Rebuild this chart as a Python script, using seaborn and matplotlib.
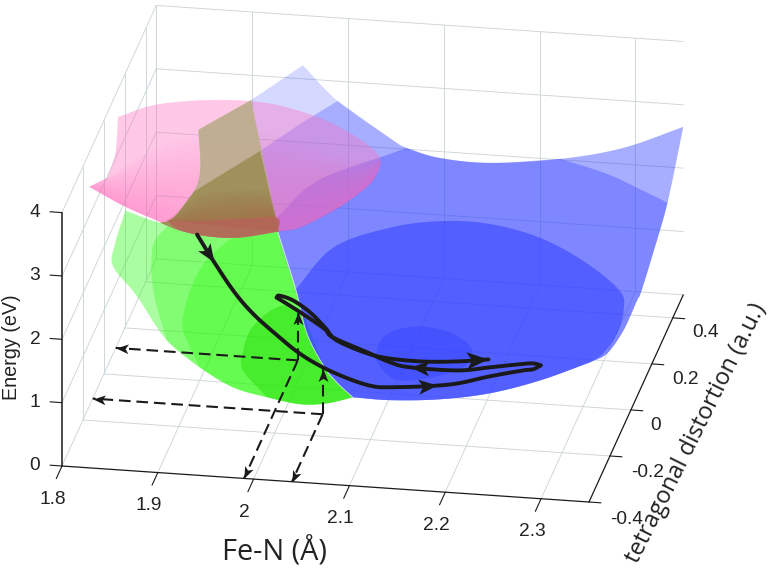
import numpy as np
import matplotlib
matplotlib.use("Agg")
import matplotlib.pyplot as plt
from matplotlib.path import Path
import seaborn as sns
from mpl_toolkits.mplot3d import proj3d
from mpl_toolkits.mplot3d.art3d import Poly3DCollection

sns.set_theme(style="white", font="Liberation Sans")

# ---------- axes values ----------
x_ticks = [1.8, 1.9, 2.0, 2.1, 2.2, 2.3]
x_tick_labels = ["1.8", "1.9", "2", "2.1", "2.2", "2.3"]
y_ticks = [-0.4, -0.2, 0.0, 0.2, 0.4]
y_tick_labels = ["-0.4", "-0.2", "0", "0.2", "0.4"]
z_ticks = [0, 1, 2, 3, 4]
z_tick_labels = ["0", "1", "2", "3", "4"]
x_range = (1.8, 2.35)
y_range = (-0.4, 0.5)
z_range = (0, 4)

# ---------- blue surface (x, y, energy) ----------
cross_line = [(1.925, .262, 3.5), (1.974, .066, 2.2), (1.997, .033, 1.4), (2.019, -.065, 1.1),
              (2.048, -.162, .95), (2.068, -.218, .92), (2.089, -.267, .9)]
blue_flap = [(1.925, .262, 3.5), (1.976, .29, 4.0)]
blue_far_a = [(1.976, .29, 4.0), (2.013, .283, 3.5), (2.068, .276, 3.0), (2.087, .265, 2.9)]
blue_far_b = [(2.087, .265, 2.9), (2.119, .286, 2.7), (2.167, .333, 2.5), (2.236, .37, 2.5)]
blue_far_c = [(2.236, .37, 2.5), (2.297, .407, 2.6), (2.35, .5, 2.65)]
blue_right_a = [(2.35, .5, 2.65), (2.35, .35, 2.0)]
blue_right_b = [(2.35, .35, 2.0), (2.345, .293, 1.6), (2.335, .238, 1.0), (2.335, .195, 1.0),
                (2.335, .065, 1.0), (2.329, -.036, 1.0), (2.316, -.078, 1.0)]
blue_bottom = [(2.316, -.078, 1.0), (2.274, -.168, 1.0), (2.229, -.237, 1.0), (2.181, -.277, 1.0),
               (2.131, -.295, 1.0), (2.089, -.267, .9)]
blue2_edge = [(1.943, .184, 3.0), (1.977, .255, 3.2), (2.013, .283, 3.5)]
blue3_edge_a = [(1.97, .094, 2.3), (1.997, .234, 2.4), (2.064, .315, 2.6), (2.087, .265, 2.9)]
blue3_edge_b = [(2.236, .37, 2.5), (2.284, .374, 2.3), (2.323, .366, 2.1), (2.35, .35, 2.0)]
blue4_edge = [(1.984, .139, 1.0), (2.003, .331, 1.0), (2.051, .431, 1.0), (2.1, .474, 1.0),
              (2.151, .476, 1.0), (2.208, .432, 1.0), (2.264, .344, 1.0), (2.313, .232, 1.0),
              (2.326, .15, 1.0), (2.33, .051, 1.0), (2.325, -.037, 1.0), (2.316, -.078, 1.0)]
blue5_ring = [(2.085, -.017, .6), (2.082, .06, .6), (2.092, .107, .6), (2.116, .131, .6),
              (2.149, .114, .6), (2.178, .053, .6), (2.18, -.02, .6), (2.152, -.08, .6),
              (2.12, -.102, .6), (2.101, -.073, .6), (2.085, -.017, .6)]

# ---------- green surface ----------
green_bottom = [(2.089, -.267, .9), (2.069, -.326, 1.0), (2.042, -.338, 1.0), (2.005, -.318, 1.0),
                (1.966, -.286, 1.0), (1.929, -.265, 1.2), (1.892, -.241, 1.5), (1.861, -.214, 2.0),
                (1.852, -.201, 2.1)]
green_left = [(1.852, -.201, 2.1), (1.829, -.181, 2.4), (1.83, -.168, 2.7), (1.834, -.107, 3.0)]
green_back = [(1.834, -.107, 3.0), (1.872, -.121, 2.9), (1.886, -.123, 3.0), (1.903, -.096, 3.3),
              (1.909, -.078, 3.6), (1.9, -.012, 4.0)]
green_top = [(1.9, -.012, 4.0), (1.925, .262, 3.5)]
green2_edge = [(1.943, .184, 3.0), (1.908, -.069, 3.3), (1.887, -.135, 3.0), (1.869, -.144, 2.7),
               (1.866, -.149, 2.4), (1.87, -.18, 2.2), (1.875, -.191, 1.9), (1.892, -.241, 1.5)]
green3_edge = [(1.974, .066, 2.2), (1.943, .057, 2.2), (1.913, .004, 2.0), (1.898, -.047, 1.7),
               (1.897, -.138, 1.4), (1.91, -.189, 1.25), (1.929, -.265, 1.2)]
green4_edge = [(2.002, .039, 1.1), (1.982, .046, 1.1), (1.969, .008, 1.1), (1.96, -.068, 1.1),
               (1.963, -.167, 1.1), (1.971, -.238, 1.1), (2.002, -.329, 1.1)]

# ---------- pink surface ----------
pink_top = [(1.807, .072, 3.8), (1.834, .128, 3.8), (1.869, .159, 3.8), (1.912, .176, 3.8),
            (1.951, .174, 3.8), (1.988, .15, 3.8), (2.028, .105, 3.8), (2.071, .03, 3.8),
            (2.093, -.037, 3.8)]
pink_low = [(2.093, -.037, 3.8), (2.094, -.123, 3.8), (2.082, -.2, 3.8), (2.068, -.26, 3.8),
            (2.042, -.341, 3.8), (2.022, -.364, 3.8), (1.986, -.4, 3.8), (1.955, -.405, 3.8),
            (1.922, -.388, 3.8), (1.894, -.353, 3.8), (1.853, -.3, 3.8), (1.81, -.23, 3.8)]
pink_left_a = [(1.81, -.23, 3.8), (1.824, -.187, 3.8)]
pink_left_b = [(1.824, -.187, 3.8), (1.821, -.084, 3.8), (1.807, .072, 3.8)]
pink2_edge = [(1.824, -.187, 3.8), (1.855, -.061, 3.8), (1.898, .016, 3.8), (1.947, .052, 3.8),
              (2.002, .024, 3.8), (2.061, -.037, 3.8), (2.093, -.037, 3.8)]
olive_low = [(1.872, -.121, 2.9), (1.922, -.388, 3.8), (1.955, -.405, 3.8), (1.986, -.4, 3.8),
             (2.022, -.364, 3.8)]
olive_back = [(1.9, -.012, 4.0), (1.909, -.078, 3.6), (1.903, -.096, 3.3), (1.886, -.123, 3.0),
              (1.872, -.121, 2.9)]
olive2_edge = [(1.943, .184, 3.0), (1.908, -.069, 3.3), (1.903, -.096, 3.3), (1.886, -.123, 3.0),
               (1.872, -.121, 2.9)]
olive3_edge = [(1.904, -.35, 3.8), (1.938, -.341, 3.8), (1.98, -.32, 3.8), (2.014, -.306, 3.8),
               (2.022, -.364, 3.8)]
olive3_low = [(2.022, -.364, 3.8), (1.986, -.4, 3.8), (1.955, -.405, 3.8), (1.922, -.388, 3.8),
              (1.904, -.35, 3.8)]
olive_shade_top = [(1.904, -.35, 3.8), (1.926, -.236, 3.8), (1.967, -.202, 3.8), (1.995, -.195, 3.8)]
olive_shade_end = [(1.995, -.195, 3.8), (2.022, -.364, 3.8)]

# ---------- switching trajectory ----------
path_in = [(1.906, -.08, 2.6), (1.92, -.085, 2.3), (1.942, -.065, 1.7), (1.961, -.05, 1.3),
           (1.987, -.055, 1.0), (2.012, -.071, .8), (2.042, -.105, .72), (2.074, -.129, .65),
           (2.096, -.135, .6), (2.113, -.134, .6), (2.15, -.119, .6), (2.181, -.112, .65),
           (2.212, -.086, .7), (2.246, -.078, .8), (2.257, -.084, .85), (2.263, -.065, .85)]
path_back = [(2.263, -.065, .85), (2.254, -.059, .85), (2.237, -.055, .8), (2.208, -.048, .7),
             (2.175, -.057, .65), (2.124, -.044, .6), (2.102, -.029, .6), (2.075, .001, .62),
             (2.035, .038, .68), (2.024, .064, .7), (2.004, .098, .73), (1.983, .131, .76),
             (1.963, .158, .8)]
path_out = [(1.963, .158, .8), (1.965, .167, .8), (1.98, .161, .76), (2.002, .123, .73),
            (2.023, .072, .7), (2.04, .027, .68), (2.075, -.003, .62), (2.1, -.013, .6),
            (2.135, -.016, .6), (2.171, -.019, .65), (2.203, -.015, .7)]

# ---------- dashed read-outs ----------
read_a = (1.99, .113, .76)
read_b = (2.04, -.107, .72)

# ---------- figure ----------
W, H = 774, 577
fig = plt.figure(figsize=(W / 100, H / 100), dpi=100, facecolor="white")
ax = fig.add_axes([0, 0, 1, 1], projection="3d", computed_zorder=False)
ax.set_proj_type("ortho")
ax.view_init(elev=22.8, azim=-80)
ax.set_xlim(*x_range)
ax.set_ylim(*y_range)
ax.set_zlim(*z_range)
ax.set_axis_off()
ax.patch.set_alpha(0)
box = (536.3, 544.0, 275.5)
ax.set_box_aspect(box, zoom=1.0)


def screen(p):
    X, Y, _ = proj3d.proj_transform(p[0], p[1], p[2], ax.get_proj())
    return X, Y


def disp(p):
    return ax.transData.transform(screen(p))


# fit the projected box to the figure: origin corner at pixel (62, 466)
fig.canvas.draw()
span = disp((x_range[1], y_range[0], 0))[0] - disp((x_range[0], y_range[0], 0))[0]
ax.set_box_aspect(box, zoom=527.0 / span)
fig.canvas.draw()
o = disp((x_range[0], y_range[0], 0))
ax.set_position([(62 - o[0]) / W, (H - 466 - o[1]) / H, 1, 1])
fig.canvas.draw()


def smooth(arc, n=10):
    """Catmull-Rom drawing of a curve through the read vertices."""
    p = np.asarray(arc, float)
    if len(p) < 3:
        return p
    q = np.vstack([2 * p[0] - p[1], p, 2 * p[-1] - p[-2]])
    out = []
    for i in range(1, len(q) - 2):
        for t in np.linspace(0, 1, n, endpoint=False):
            out.append(0.5 * ((2 * q[i]) + (q[i + 1] - q[i - 1]) * t
                              + (2 * q[i - 1] - 5 * q[i] + 4 * q[i + 1] - q[i + 2]) * t ** 2
                              + (3 * q[i] - q[i - 1] - 3 * q[i + 1] + q[i + 2]) * t ** 3))
    out.append(p[-1])
    return np.array(out)


def chain(*arcs):
    return np.vstack([smooth(a) for a in arcs])


def resample(a, m=60):
    a = np.asarray(a)
    return a[np.linspace(0, len(a) - 1, m).round().astype(int)]


def fill(verts, color, alpha, z):
    c = Poly3DCollection([verts], facecolors=[matplotlib.colors.to_rgba(color, alpha)],
                         edgecolors="none", linewidths=0, zorder=z)
    c.set_clip_on(False)
    ax.add_collection3d(c, autolim=False)


def line(pts, color="k", lw=1.0, z=1, **kw):
    a = np.asarray(pts, float)
    l, = ax.plot(a[:, 0], a[:, 1], a[:, 2], color=color, lw=lw, zorder=z, clip_on=False, **kw)
    return l


def arrowhead(a, b, size=16, z=40, t=1.0):
    """Swept arrow head whose tip sits at the point a + t (b - a), aimed from a to b."""
    a, b = np.asarray(a, float), np.asarray(b, float)
    tip = a + (b - a) * t
    d = disp(b) - disp(a)
    ang = np.arctan2(d[1], d[0])
    base = np.array([(0, 0), (-2, .8), (-1.5, 0), (-2, -.8), (0, 0)])
    rot = np.array([[np.cos(ang), -np.sin(ang)], [np.sin(ang), np.cos(ang)]])
    marker = Path(base @ rot.T, closed=True)
    ax.plot([tip[0]], [tip[1]], [tip[2]], marker=marker, ms=size, mfc="k", mec="k", mew=0,
            ls="none", zorder=z, clip_on=False)


def label(p, text, off, z=50, **kw):
    ax.annotate(text, xy=screen(p), xytext=(off[0] * .72, off[1] * .72), textcoords="offset points",
                ha="center", va="center", annotation_clip=False, zorder=z, color="#222222", **kw)


# ---------- grid ----------
grid_c = "#ccd5d8"
x0, x1 = x_range
y0, y1 = y_range
z1 = z_range[1]
gl = dict(color=grid_c, lw=0.65, z=1)
for xv in x_ticks:
    line([(xv, y0, 0), (xv, y1, 0)], **gl)
    line([(xv, y1, 0), (xv, y1, z1)], **gl)
for yv in y_ticks[1:] + [y1]:
    line([(x0, yv, 0), (x1, yv, 0)], **gl)
    line([(x0, yv, 0), (x0, yv, z1)], **gl)
for zv in z_ticks[1:]:
    line([(x0, y1, zv), (x1, y1, zv)], **gl)
    line([(x0, y0, zv), (x0, y1, zv)], **gl)

# ---------- axes lines and ticks ----------
ax_c = "#1a1a1a"
line([(x0, y0, 0), (x1, y0, 0)], ax_c, 0.9, 2)
line([(x1, y0, 0), (x1, y1, 0)], ax_c, 0.9, 2)
line([(x0, y0, 0), (x0, y0, z1)], ax_c, 1.1, 2)
for xv in x_ticks:
    line([(xv, y0, 0), (xv, y0 - .055, 0)], ax_c, 0.8, 2)
for yv in y_ticks:
    line([(x1, yv, 0), (x1 + .0125, yv, 0)], ax_c, 0.8, 2)
for zv in z_ticks:
    line([(x0, y0, zv), (x0 - .0125, y0, zv)], ax_c, 0.8, 2)

tick_fs = 13.8
for xv, t in zip(x_ticks, x_tick_labels):
    label((xv, y0, 0), t, (-9, -33), fontsize=tick_fs)
for yv, t, off in zip(y_ticks, y_tick_labels, [(38, -17), (38, -17), (25, -16), (34, -16), (33, -15)]):
    label((x1, yv, 0), t, off, fontsize=tick_fs)
for zv, t in zip(z_ticks, z_tick_labels):
    label((x0, y0, zv), t, (-27, 0), fontsize=tick_fs)

fig.text(12 / W, 1 - 347 / H, "Energy (eV)", rotation=90, ha="center", va="center",
         fontsize=14.2, color="#222222")
fig.text(275 / W, 1 - 552 / H, "Fe-N (Å)", ha="center", va="center", fontsize=20.8,
         family="Open Sans", color="#222222")
fig.text(696 / W, 1 - 433 / H, "tetragonal distortion (a.u.)", rotation=63.5, ha="center",
         va="center", fontsize=17.0, family="Open Sans", color="#222222", rotation_mode="anchor")

# ---------- green ----------
g = "#2ffa14"
cross_rev = cross_line[::-1]
fill(chain(green_bottom, green_left, green_back, green_top, cross_line), g, .40, 5)
fill(chain(green2_edge, green_bottom[:7][::-1], cross_rev[:-1] + [(1.943, .184, 3.0)]), g, .33, 6)
fill(chain(green3_edge, green_bottom[:6][::-1], cross_rev[:-1]), g, .35, 7)
fill(chain(green4_edge, green_bottom[:4][::-1], cross_rev[:3] + [(2.002, .039, 1.1)]), "#30e010", .55, 8)

# ---------- blue ----------
b = "#3040ff"
blue_far = blue_far_a + blue_far_b[1:] + blue_far_c[1:]
blue_right = blue_right_a + blue_right_b[1:]
fill(chain(blue_flap, blue_far, blue_right, blue_bottom, cross_rev), b, .20, 10)
fill(chain(blue2_edge, blue_far[1:], blue_right, blue_bottom,
           cross_rev[:-1] + [(1.943, .184, 3.0)]), b, .28, 11)
fill(chain(blue3_edge_a, blue_far_b, blue3_edge_b, blue_right_b, blue_bottom, cross_rev[:-1]), b, .34, 12)
fill(chain(blue4_edge, blue_bottom, cross_rev[:5]), b, .55, 13)
fill(smooth(blue5_ring), b, .40, 14)
line(smooth(cross_line[1:]), "white", 0.6, 15, alpha=0.75)

# ---------- pink, deepening towards its lower rim ----------
p = "#ff70c0"
pink_rim = pink_top + pink_low[1:]
fill(chain(pink_rim, pink_left_a, pink_left_b), p, .38, 20)
low_curve = smooth(pink_low)
edge_a = resample(smooth(pink2_edge))
edge_b = resample(low_curve[::-1])
for k, t in enumerate(np.linspace(0, .93, 14)):
    edge = (1 - t) * edge_a + t * edge_b
    fill(np.vstack([edge, low_curve]), p, .04, 21 + k * 0.01)

# ---------- olive overlap of green and pink ----------
fill(chain([(1.925, .262, 3.5), (1.9, -.012, 4.0)], olive_back, olive_low,
           [(2.022, -.364, 3.8), (1.925, .262, 3.5)]), "#c0ad92", .93, 24)
fill(chain(olive2_edge, olive_low, [(2.022, -.364, 3.8), (1.943, .184, 3.0)]), "#9d8e58", .93, 25)
shade_a = resample(np.vstack([smooth(olive_shade_top), smooth(olive_shade_end)]))
shade_b = resample(chain(olive3_edge))
for k, t in enumerate(np.linspace(0, .9, 8)):
    fill((1 - t) * shade_a + t * shade_b, "#a8603f", .07, 25.5 + k * 0.01)
fill(chain(olive3_edge, olive3_low), "#b8625a", .78, 26)

# ---------- trajectory ----------
line(chain(path_in), "k", 2.8, 30, solid_capstyle="round")
line(chain(path_back), "k", 2.8, 30, solid_capstyle="round")
line(chain(path_out), "k", 2.8, 30, solid_capstyle="round")
arrowhead(path_in[1], path_in[2], 28, 31, t=0.18)
arrowhead(path_in[10], path_in[11], 28, 31, t=0.33)
arrowhead(path_back[4], path_back[5], 28, 31)
arrowhead(path_out[-2], path_out[-1], 32, 31)

# ---------- dashed read-outs ----------
dash = dict(color="k", lw=1.5, z=33, linestyle=(0, (5.6, 2.8)))
for pt in (read_a, read_b):
    xv, yv, zv = pt
    line([(xv, yv, 0), (xv, yv, zv)], **dash)
    line([(xv, yv, 0), (xv, y0, 0)], **dash)
    line([(xv, yv, 0), (x0, yv, 0)], **dash)
    arrowhead((xv, yv, zv - .2), pt, 18, 34)
    arrowhead((xv, y0 + .06, 0), (xv, y0, 0), 18, 34)
    arrowhead((x0 + .05, yv, 0), (x0, yv, 0), 18, 34)

fig.savefig("out.png", dpi=100, facecolor="white")
